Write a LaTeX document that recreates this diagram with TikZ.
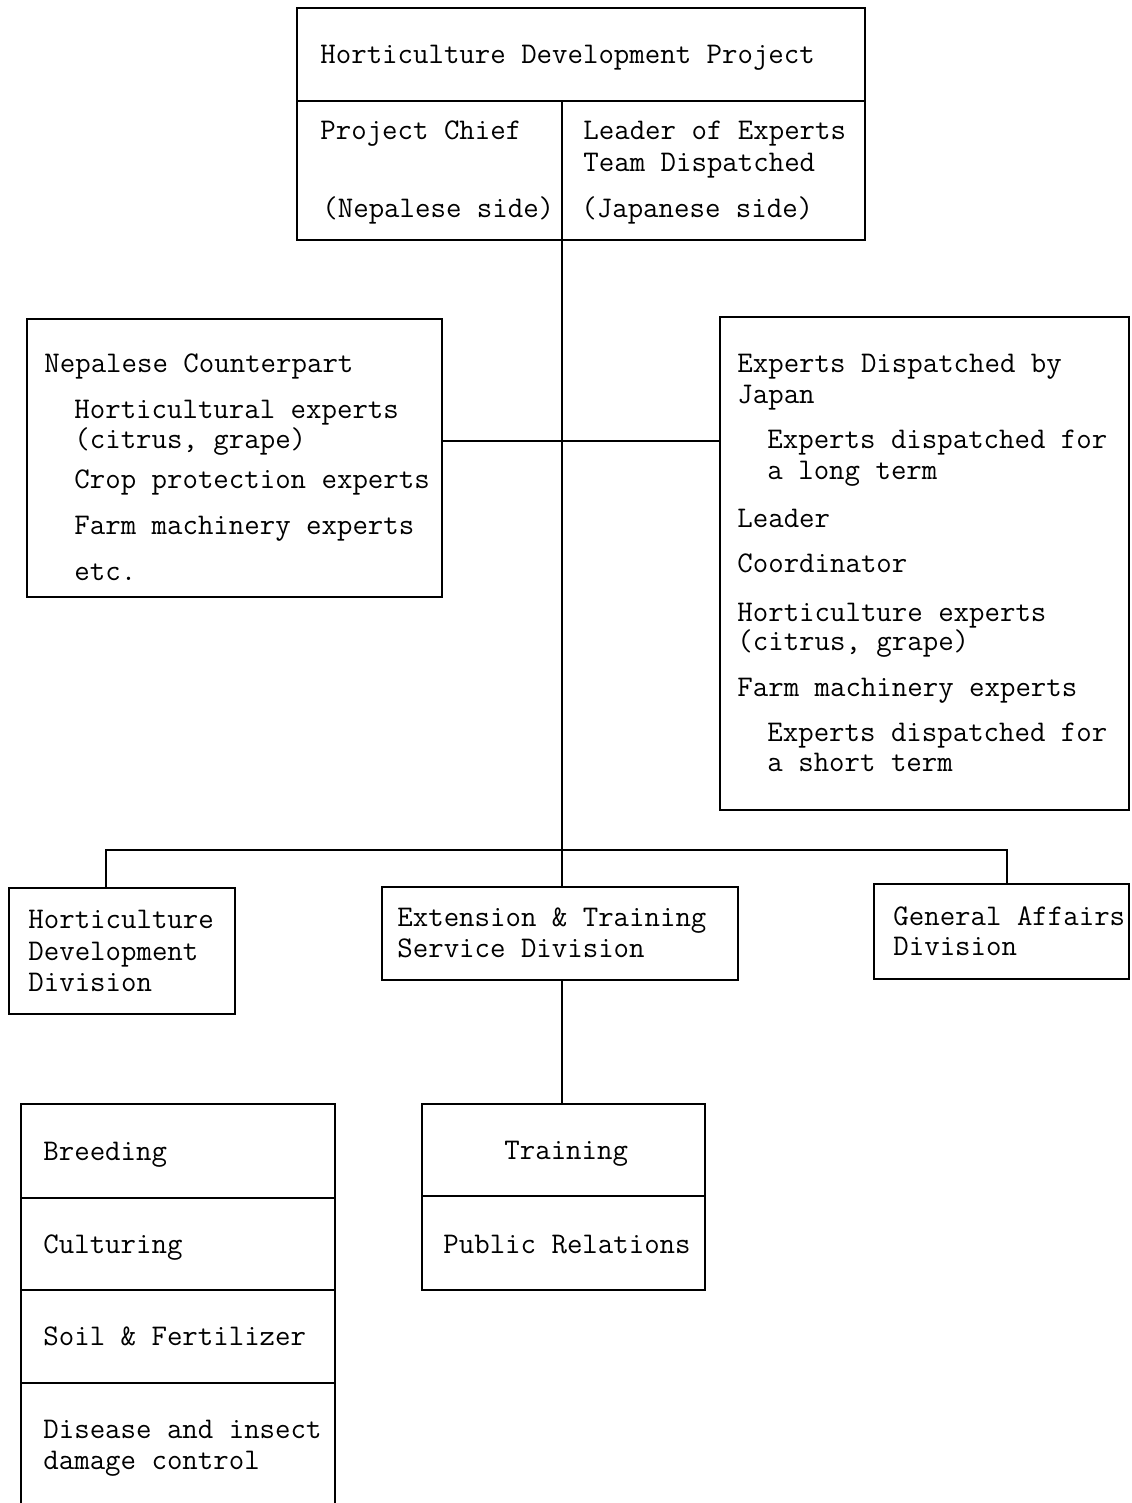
\documentclass[tikz,border=0pt]{standalone}
\usepackage{fontspec}
\usetikzlibrary{fit}
\begin{document}
\begin{tikzpicture}[x=0.5pt,y=-0.5pt,
  box/.style={draw,line width=1pt,inner sep=0pt},
  area/.style={inner sep=0pt},
  lbl/.style={anchor=base west,inner sep=0pt,yshift=-1pt,font=\ttfamily\fontsize{15}{15.5}\selectfont},
  conn/.style={line width=1pt}]
\useasboundingbox (0,0) rectangle (1131,1503);
% ---------- top box
\node[box,fit={(297,8)(865,240)}] (top) {};
\coordinate (d1) at (0,101);
\coordinate (spine) at (562,0);
\draw[conn] (top.west |- d1) -- (top.east |- d1);
\draw[conn] (spine |- d1) -- (spine |- top.south);
\node[lbl] (t1) at (320,62) {Horticulture Development Project};
\node[lbl] (t2) at (320,138) {Project Chief};
\node[lbl] (t3) at (322,216) {(Nepalese side)};
\node[lbl] (t4) at (583,138) {Leader of Experts};
\node[lbl] (t5) at (583,170) {Team Dispatched};
\node[lbl] (t6) at (581,216) {(Japanese side)};
% ---------- left box
\node[box,fit={(27,319)(442,597)}] (lc) {};
\node[lbl] (l1) at (44,370) {Nepalese Counterpart};
\node[lbl] (l2) at (74,416) {Horticultural experts};
\node[lbl] (l3) at (74,446) {(citrus, grape)};
\node[lbl] (l4) at (74,486) {Crop protection experts};
\node[lbl] (l5) at (74,532) {Farm machinery experts};
\node[lbl] (l6) at (74,578) {etc.};
% ---------- right box
\node[box,fit={(720,317)(1129,810)}] (jp) {};
\node[lbl] (r1) at (737,370) {Experts Dispatched by};
\node[lbl] (r2) at (737,401) {Japan};
\node[lbl] (r3) at (767,446) {Experts dispatched for};
\node[lbl] (r4) at (767,477) {a long term};
\node[lbl] (r5) at (737,525) {Leader};
\node[lbl] (r6) at (737,570) {Coordinator};
\node[lbl] (r7) at (737,619) {Horticulture experts};
\node[lbl] (r8) at (737,648) {(citrus, grape)};
\node[lbl] (r9) at (737,694) {Farm machinery experts};
\node[lbl] (r10) at (767,739) {Experts dispatched for};
\node[lbl] (r11) at (767,769) {a short term};
\coordinate (hy) at (0,441);
\draw[conn] (lc.east |- hy) -- (jp.west |- hy);
% ---------- divisions
\node[box,fit={(9,888)(235,1014)}] (hdd) {};
\node[lbl] (h1) at (28,926) {Horticulture};
\node[lbl] (h2) at (28,958) {Development};
\node[lbl] (h3) at (28,989) {Division};
\node[box,fit={(382,887)(738,980)}] (ext) {};
\node[lbl] (e1) at (397,924) {Extension \& Training};
\node[lbl] (e2) at (397,955) {Service Division};
\node[box,fit={(874,884)(1129,979)}] (ga) {};
\node[lbl] (g1) at (893,923) {General Affairs};
\node[lbl] (g2) at (893,953) {Division};
\draw[conn] (spine |- top.south) -- (spine |- ext.north);
\coordinate (b1) at (106,850);
\coordinate (b2) at (1007,850);
\draw[conn] (hdd.north -| b1) -- (b1) -- (b2) -- (ga.north -| b2);
% ---------- training box
\node[box,fit={(422,1104)(705,1290)}] (tr) {};
\coordinate (d2) at (0,1196);
\draw[conn] (tr.west |- d2) -- (tr.east |- d2);
\node[lbl] (tr1) at (504,1157) {Training};
\node[lbl] (tr2) at (443,1251) {Public Relations};
\draw[conn] (spine |- ext.south) -- (spine |- tr.north);
% ---------- bottom-left box (open at bottom)
\node[area,fit={(21,1104)(335,1503)}] (bl) {};
\draw[conn] (bl.south west) -- (bl.north west) -- (bl.north east) -- (bl.south east);
\coordinate (d3) at (0,1198);
\coordinate (d4) at (0,1290);
\coordinate (d5) at (0,1383);
\draw[conn] (bl.west |- d3) -- (bl.east |- d3);
\draw[conn] (bl.west |- d4) -- (bl.east |- d4);
\draw[conn] (bl.west |- d5) -- (bl.east |- d5);
\node[lbl] (b1t) at (43,1158) {Breeding};
\node[lbl] (b2t) at (43,1251) {Culturing};
\node[lbl] (b3t) at (43,1343) {Soil \& Fertilizer};
\node[lbl] (b4t) at (43,1436) {Disease and insect};
\node[lbl] (b5t) at (43,1467) {damage control};
\end{tikzpicture}
\end{document}
